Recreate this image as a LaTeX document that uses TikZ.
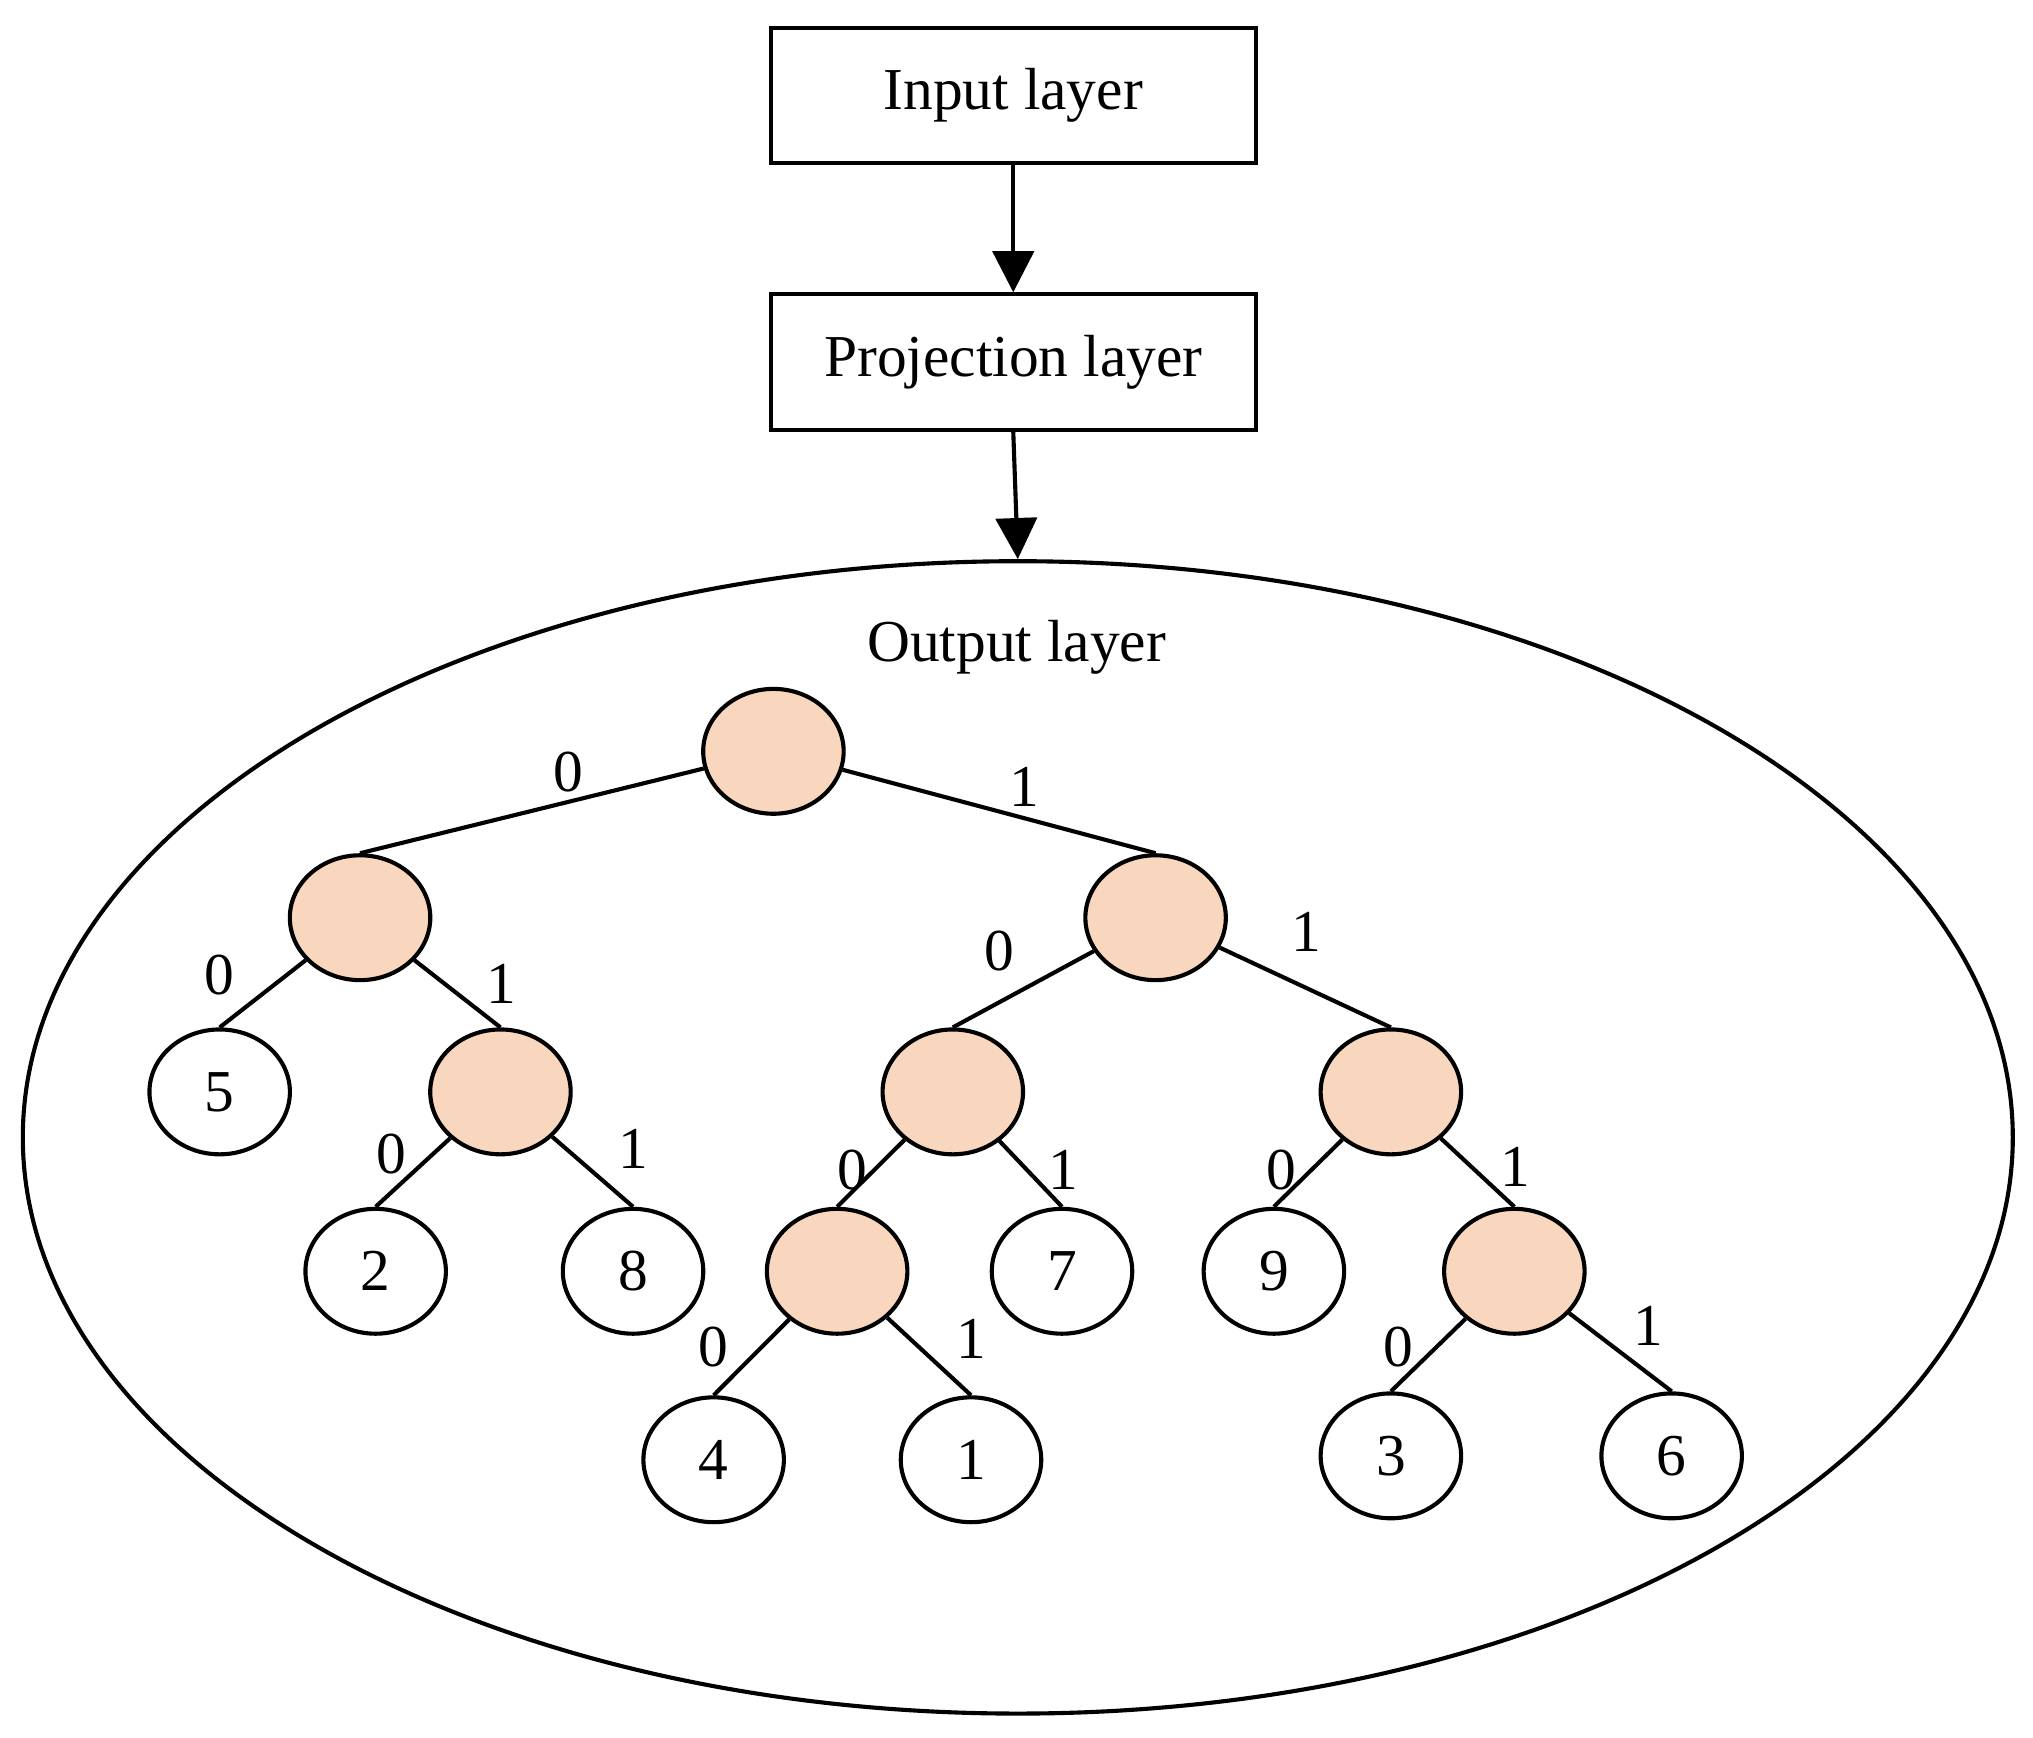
\documentclass[tikz,border=0pt]{standalone}
\usepackage{fontspec}
\setmainfont{Liberation Serif}
\usetikzlibrary{arrows.meta,shapes.geometric}
\definecolor{peach}{RGB}{248,215,190}
\begin{document}
\begin{tikzpicture}[x=0.01cm,y=-0.01cm,line width=0.9pt,
  font=\fontsize{13}{15}\selectfont,
  box/.style={draw,minimum width=3.73cm,minimum height=1.04cm,inner sep=0},
  nd/.style={draw,ellipse,minimum width=1.08cm,minimum height=0.96cm,inner sep=0},
  int/.style={nd,fill=peach},
  arr/.style={-{Triangle[length=9pt,width=9pt]}},
  lb/.style={inner sep=0}]
\useasboundingbox (0,0) rectangle (1564,1337);
\node[box] (in) at (779.5,73.5) {Input layer};
\node[box] (pr) at (779.5,278.5) {Projection layer};
\node[draw,ellipse,minimum width=15.3cm,minimum height=8.86cm,inner sep=0] (out) at (783,875) {};
\node (ol) at (782,498) {Output layer};
\draw[arr] (in.south) -- (pr.north);
\draw[arr] (pr.south) -- (out.north);
\node[int] (r) at (595,578) {};
\node[int] (a) at (277,706) {};
\node[int] (b) at (889,706) {};
\node[nd] (n5) at (169,840) {5};
\node[int] (c) at (385,840) {};
\node[nd] (n2) at (289,978) {2};
\node[nd] (n8) at (487,978) {8};
\node[int] (d) at (733,840) {};
\node[int] (e) at (1070,840) {};
\node[int] (f) at (644,978) {};
\node[nd] (n7) at (817,978) {7};
\node[nd] (n9) at (980,978) {9};
\node[int] (g) at (1165,978) {};
\node[nd] (n4) at (549,1123) {4};
\node[nd] (n1) at (747,1123) {1};
\node[nd] (n3) at (1070,1120) {3};
\node[nd] (n6) at (1286,1120) {6};
\foreach \p/\q in {r/a,r/b,a/n5,a/c,c/n2,c/n8,b/d,b/e,d/f,d/n7,e/n9,e/g,f/n4,f/n1,g/n3,g/n6}
  \draw (\p) -- (\q.north);
\node[lb] (l1) at (437,594) {0};
\node[lb] (l2) at (788,605) {1};
\node[lb] (l3) at (169,750) {0};
\node[lb] (l4) at (386,757) {1};
\node[lb] (l5) at (769,732) {0};
\node[lb] (l6) at (1005,717) {1};
\node[lb] (l7) at (301,888) {0};
\node[lb] (l8) at (487,884) {1};
\node[lb] (l9) at (656,900) {0};
\node[lb] (l10) at (818,900) {1};
\node[lb] (l11) at (986,900) {0};
\node[lb] (l12) at (1166,898) {1};
\node[lb] (l13) at (549,1036) {0};
\node[lb] (l14) at (747,1030) {1};
\node[lb] (l15) at (1076,1036) {0};
\node[lb] (l16) at (1268,1020) {1};
\end{tikzpicture}
\end{document}
